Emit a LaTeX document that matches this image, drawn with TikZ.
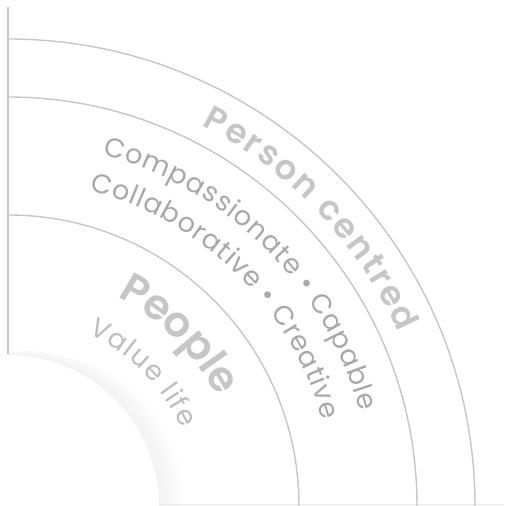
\documentclass[tikz,border=0pt]{standalone}
\usepackage{fontspec}
\setmainfont{Poppins}[BoldFont={Poppins SemiBold}]
\usetikzlibrary{decorations.text}
\definecolor{arcgray}{HTML}{C6C6C6}
\definecolor{titlegray}{HTML}{C6C6C6}
\definecolor{wordgray}{HTML}{A8A8A8}
\definecolor{lifegray}{HTML}{BDBDBD}
\begin{document}
\begin{tikzpicture}[x=1pt,y=1pt,
  ring/.style={draw=arcgray, line width=1.4pt},
  curvedtext/.style={decorate, decoration={text along path, text align={fit to path}, text color=#1}}
  ]
\useasboundingbox (0,0) rectangle (504,506);
\coordinate (O) at (8,0);
% soft shadow round the inner quarter disc
\begin{scope}
  \clip (8,0) rectangle (504,160);
  \foreach \k in {0,...,22} {
    \fill[black!10, opacity=0.026, even odd rule] (8+\k,0) circle[radius=152+0.15*\k] (8,0) circle[radius=151];
  }
\end{scope}
\draw[color=black!8, line width=0.8pt] (160,1.2) -- (504,1.2);
% frame lines
\draw[ring] (8,499) -- (8,152);
\draw[ring] (8,467) arc[start angle=90, end angle=0, radius=467];
\draw[ring] (8,409) arc[start angle=90, end angle=0, radius=409];
\draw[ring] (8,291) arc[start angle=90, end angle=0, radius=291];
% texts
\begin{scope}[shift={(8,0)}]
  \path[curvedtext=titlegray, decoration={text={|\bfseries\fontsize{34}{38}\selectfont|Person centred}}]
    (63:427) arc[start angle=63, end angle=24, radius=427];
  \path[curvedtext=wordgray, decoration={text={|\fontsize{27}{30}\selectfont|Compassionate • Capable}}]
    (75:364) arc[start angle=75, end angle=15, radius=364];
  \path[curvedtext=wordgray, decoration={text={|\fontsize{27}{30}\selectfont|Collaborative • Creative}}]
    (75.5:326) arc[start angle=75.5, end angle=15.3, radius=326];
  \path[curvedtext=titlegray, decoration={text={|\bfseries\fontsize{42}{46}\selectfont|People}}]
    (62.5:236) arc[start angle=62.5, end angle=28, radius=236];
  \path[curvedtext=lifegray, decoration={text={|\fontsize{27}{30}\selectfont|Value life}}]
    (65:190) arc[start angle=65, end angle=24, radius=190];
\end{scope}
\end{tikzpicture}
\end{document}
